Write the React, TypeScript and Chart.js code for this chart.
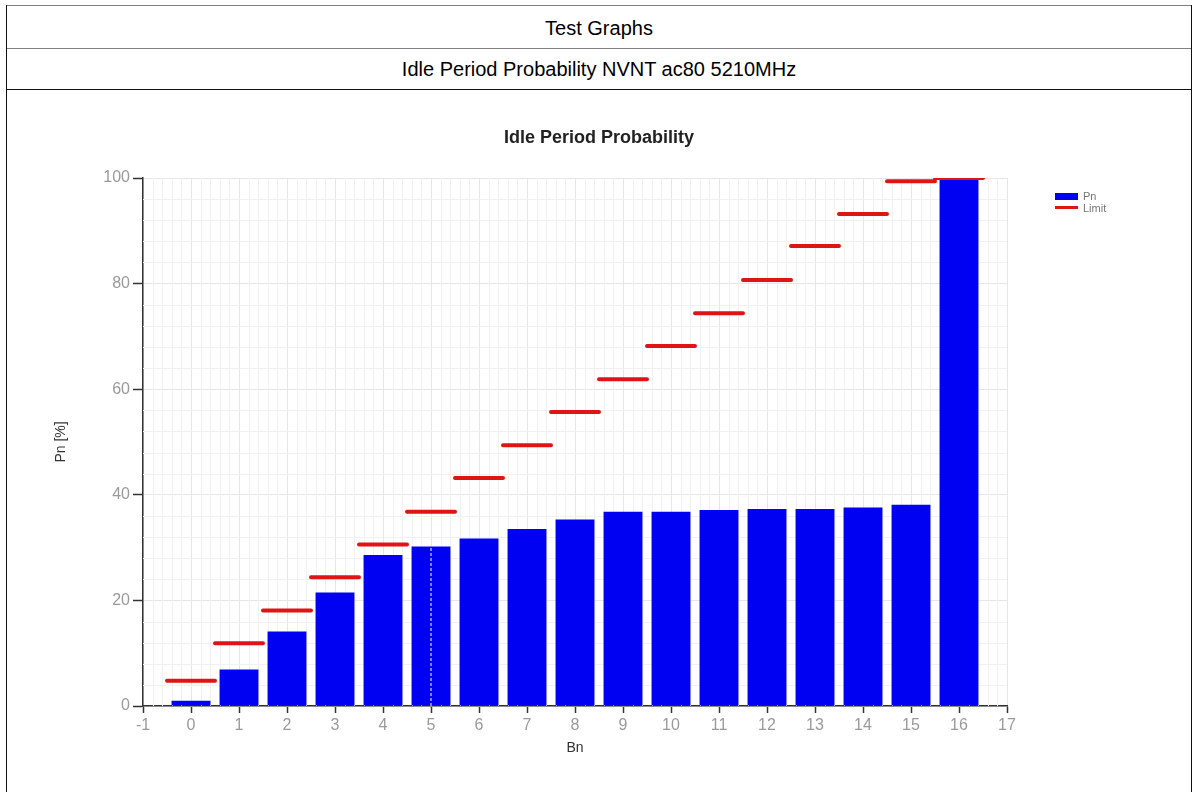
import React, { useEffect, useRef } from 'react';
import { Chart, registerables } from 'chart.js';

Chart.register(...registerables);

// ---- data ----
const BN_VALUES = [0, 1, 2, 3, 4, 5, 6, 7, 8, 9, 10, 11, 12, 13, 14, 15, 16];
const PN_VALUES = [1.0, 6.9, 14.1, 21.5, 28.6, 30.2, 31.7, 33.5, 35.3, 36.8, 36.8, 37.1, 37.3, 37.3, 37.6, 38.1, 100];
const LIMIT_VALUES = [4.8, 11.9, 18.1, 24.4, 30.6, 36.8, 43.2, 49.4, 55.7, 61.9, 68.2, 74.4, 80.7, 87.1, 93.2, 99.4, 100];
const X_RANGE = [-1, 17];
const Y_RANGE = [0, 100];
const X_STEP = 1;
const Y_STEP = 20;
const X_MINOR_STEP = 0.2;
const Y_MINOR_STEP = 4;
const CURSOR_BN = 5;

const HEADER_1 = 'Test Graphs';
const HEADER_2 = 'Idle Period Probability NVNT ac80 5210MHz';
const CHART_TITLE = 'Idle Period Probability';
const X_TITLE = 'Bn';
const Y_TITLE = 'Pn [%]';
const LEGEND_LABELS = ['Pn', 'Limit'];

const FONT = '"Liberation Sans", Arial, sans-serif';
const BAR_COLOR = '#0000f2';
const LIMIT_COLOR = '#e01414';

const minorGridPlugin = {
  id: 'minorGrid',
  beforeDatasetsDraw(chart: any) {
    const { ctx, chartArea, scales } = chart;
    const xs = scales.x;
    const ys = scales.y;
    ctx.save();
    ctx.strokeStyle = '#f1f1f1';
    ctx.lineWidth = 1;
    ctx.beginPath();
    const nx = Math.round((X_RANGE[1] - X_RANGE[0]) / X_MINOR_STEP);
    for (let k = 1; k < nx; k++) {
      const v = X_RANGE[0] + k * X_MINOR_STEP;
      if (Math.abs(v - Math.round(v)) < 1e-6) continue;
      const px = Math.round(xs.getPixelForValue(v)) + 0.5;
      ctx.moveTo(px, chartArea.top);
      ctx.lineTo(px, chartArea.bottom);
    }
    const ny = Math.round((Y_RANGE[1] - Y_RANGE[0]) / Y_MINOR_STEP);
    for (let k = 1; k < ny; k++) {
      const v = Y_RANGE[0] + k * Y_MINOR_STEP;
      if (Math.abs(v / Y_STEP - Math.round(v / Y_STEP)) < 1e-6) continue;
      const py = Math.round(ys.getPixelForValue(v)) + 0.5;
      ctx.moveTo(chartArea.left, py);
      ctx.lineTo(chartArea.right, py);
    }
    ctx.stroke();
    ctx.restore();
  },
};

function ChartCanvas() {
  const ref = useRef<HTMLCanvasElement | null>(null);
  useEffect(() => {
    if (!ref.current) return;
    const barData = BN_VALUES.map((b, i) => ({ x: b, y: PN_VALUES[i] }));
    const limitData: any[] = [];
    BN_VALUES.forEach((b, i) => {
      limitData.push({ x: b - 0.5, y: LIMIT_VALUES[i] });
      limitData.push({ x: b + 0.5, y: LIMIT_VALUES[i] });
      limitData.push({ x: b + 0.5, y: null });
    });
    const cursorData = [
      { x: CURSOR_BN, y: Y_RANGE[0] },
      { x: CURSOR_BN, y: PN_VALUES[BN_VALUES.indexOf(CURSOR_BN)] },
    ];
    const chart = new Chart(ref.current, {
      type: 'bar',
      data: {
        datasets: [
          {
            type: 'line',
            label: 'cursor',
            data: cursorData,
            borderColor: '#ffffff',
            borderWidth: 1,
            borderDash: [3, 2],
            pointRadius: 0,
            order: 0,
          } as any,
          {
            type: 'line',
            label: LEGEND_LABELS[1],
            data: limitData,
            borderColor: LIMIT_COLOR,
            borderWidth: 4,
            borderCapStyle: 'round',
            pointRadius: 0,
            spanGaps: false,
            order: 1,
          } as any,
          {
            type: 'bar',
            label: LEGEND_LABELS[0],
            data: barData,
            backgroundColor: BAR_COLOR,
            borderWidth: 0,
            barPercentage: 0.81,
            categoryPercentage: 1,
            order: 2,
          } as any,
        ],
      },
      options: {
        animation: false,
        responsive: false,
        maintainAspectRatio: false,
        layout: { padding: { left: 30, right: 183, top: 87, bottom: 20 } },
        plugins: {
          legend: { display: false },
          tooltip: { enabled: false },
          title: { display: false },
        },
        scales: {
          x: {
            type: 'linear',
            min: X_RANGE[0],
            max: X_RANGE[1],
            offset: false,
            grid: { offset: false, color: '#e6e6e6', tickColor: '#333', tickLength: 7, tickWidth: 1.5 },
            border: { color: '#333', width: 1.5 },
            ticks: {
              stepSize: X_STEP,
              autoSkip: false,
              maxRotation: 0,
              color: '#9a9a9a',
              padding: 3,
              font: { family: FONT, size: 16 },
            },
            title: {
              display: true,
              text: X_TITLE,
              color: '#333',
              font: { family: FONT, size: 14 },
              padding: { top: 0, bottom: 15 },
            },
            afterFit: (s: any) => {
              s.height = 66;
            },
          },
          y: {
            type: 'linear',
            min: Y_RANGE[0],
            max: Y_RANGE[1],
            grid: { color: '#e6e6e6', tickColor: '#333', tickLength: 10, tickWidth: 1.5 },
            border: { color: '#333', width: 1.5 },
            ticks: {
              stepSize: Y_STEP,
              color: '#9a9a9a',
              padding: 3,
              font: { family: FONT, size: 16 },
            },
            title: {
              display: true,
              text: Y_TITLE,
              color: '#333',
              font: { family: FONT, size: 14 },
              padding: { top: 16, bottom: 0 },
            },
            afterFit: (s: any) => {
              s.width = 106;
            },
          },
        },
      } as any,
      plugins: [minorGridPlugin],
    });
    return () => chart.destroy();
  }, []);
  return <canvas ref={ref} width={1183} height={701} style={{ width: 1183, height: 701, display: 'block' }} />;
}

export default function App() {
  const line = (style: React.CSSProperties) => <div style={{ position: 'absolute', ...style }} />;
  const headerText: React.CSSProperties = {
    position: 'absolute',
    left: 7,
    width: 1184,
    textAlign: 'center',
    fontFamily: FONT,
    fontSize: 20,
    lineHeight: '22px',
    color: '#000',
  };
  return (
    <div style={{ position: 'absolute', left: 0, top: 0, width: 1192, height: 792, overflow: 'hidden', background: '#fff' }}>
      {line({ left: 6, top: 5, width: 1186, height: 1, background: '#808080' })}
      {line({ left: 6, top: 48, width: 1186, height: 1, background: '#808080' })}
      {line({ left: 6, top: 89, width: 1186, height: 1, background: '#111' })}
      {line({ left: 6, top: 5, width: 1, height: 787, background: '#111' })}
      {line({ left: 1191, top: 5, width: 1, height: 787, background: '#111' })}
      <div style={{ ...headerText, top: 17 }}>{HEADER_1}</div>
      <div style={{ ...headerText, top: 58 }}>{HEADER_2}</div>
      <div style={{ position: 'absolute', left: 7, top: 91 }}>
        <ChartCanvas />
      </div>
      <div
        style={{
          position: 'absolute',
          left: 399,
          top: 126,
          width: 400,
          textAlign: 'center',
          fontFamily: FONT,
          fontSize: 18,
          lineHeight: '22px',
          fontWeight: 'bold',
          color: '#222',
        }}
      >
        {CHART_TITLE}
      </div>
      <div style={{ position: 'absolute', left: 1055, top: 193, width: 23, height: 7, background: BAR_COLOR }} />
      <div style={{ position: 'absolute', left: 1055, top: 206, width: 23, height: 3, background: LIMIT_COLOR }} />
      <div style={{ position: 'absolute', left: 1083, top: 190, fontFamily: FONT, fontSize: 11, lineHeight: '12px', color: '#777' }}>{LEGEND_LABELS[0]}</div>
      <div style={{ position: 'absolute', left: 1083, top: 202, fontFamily: FONT, fontSize: 11, lineHeight: '12px', color: '#777' }}>{LEGEND_LABELS[1]}</div>
    </div>
  );
}
